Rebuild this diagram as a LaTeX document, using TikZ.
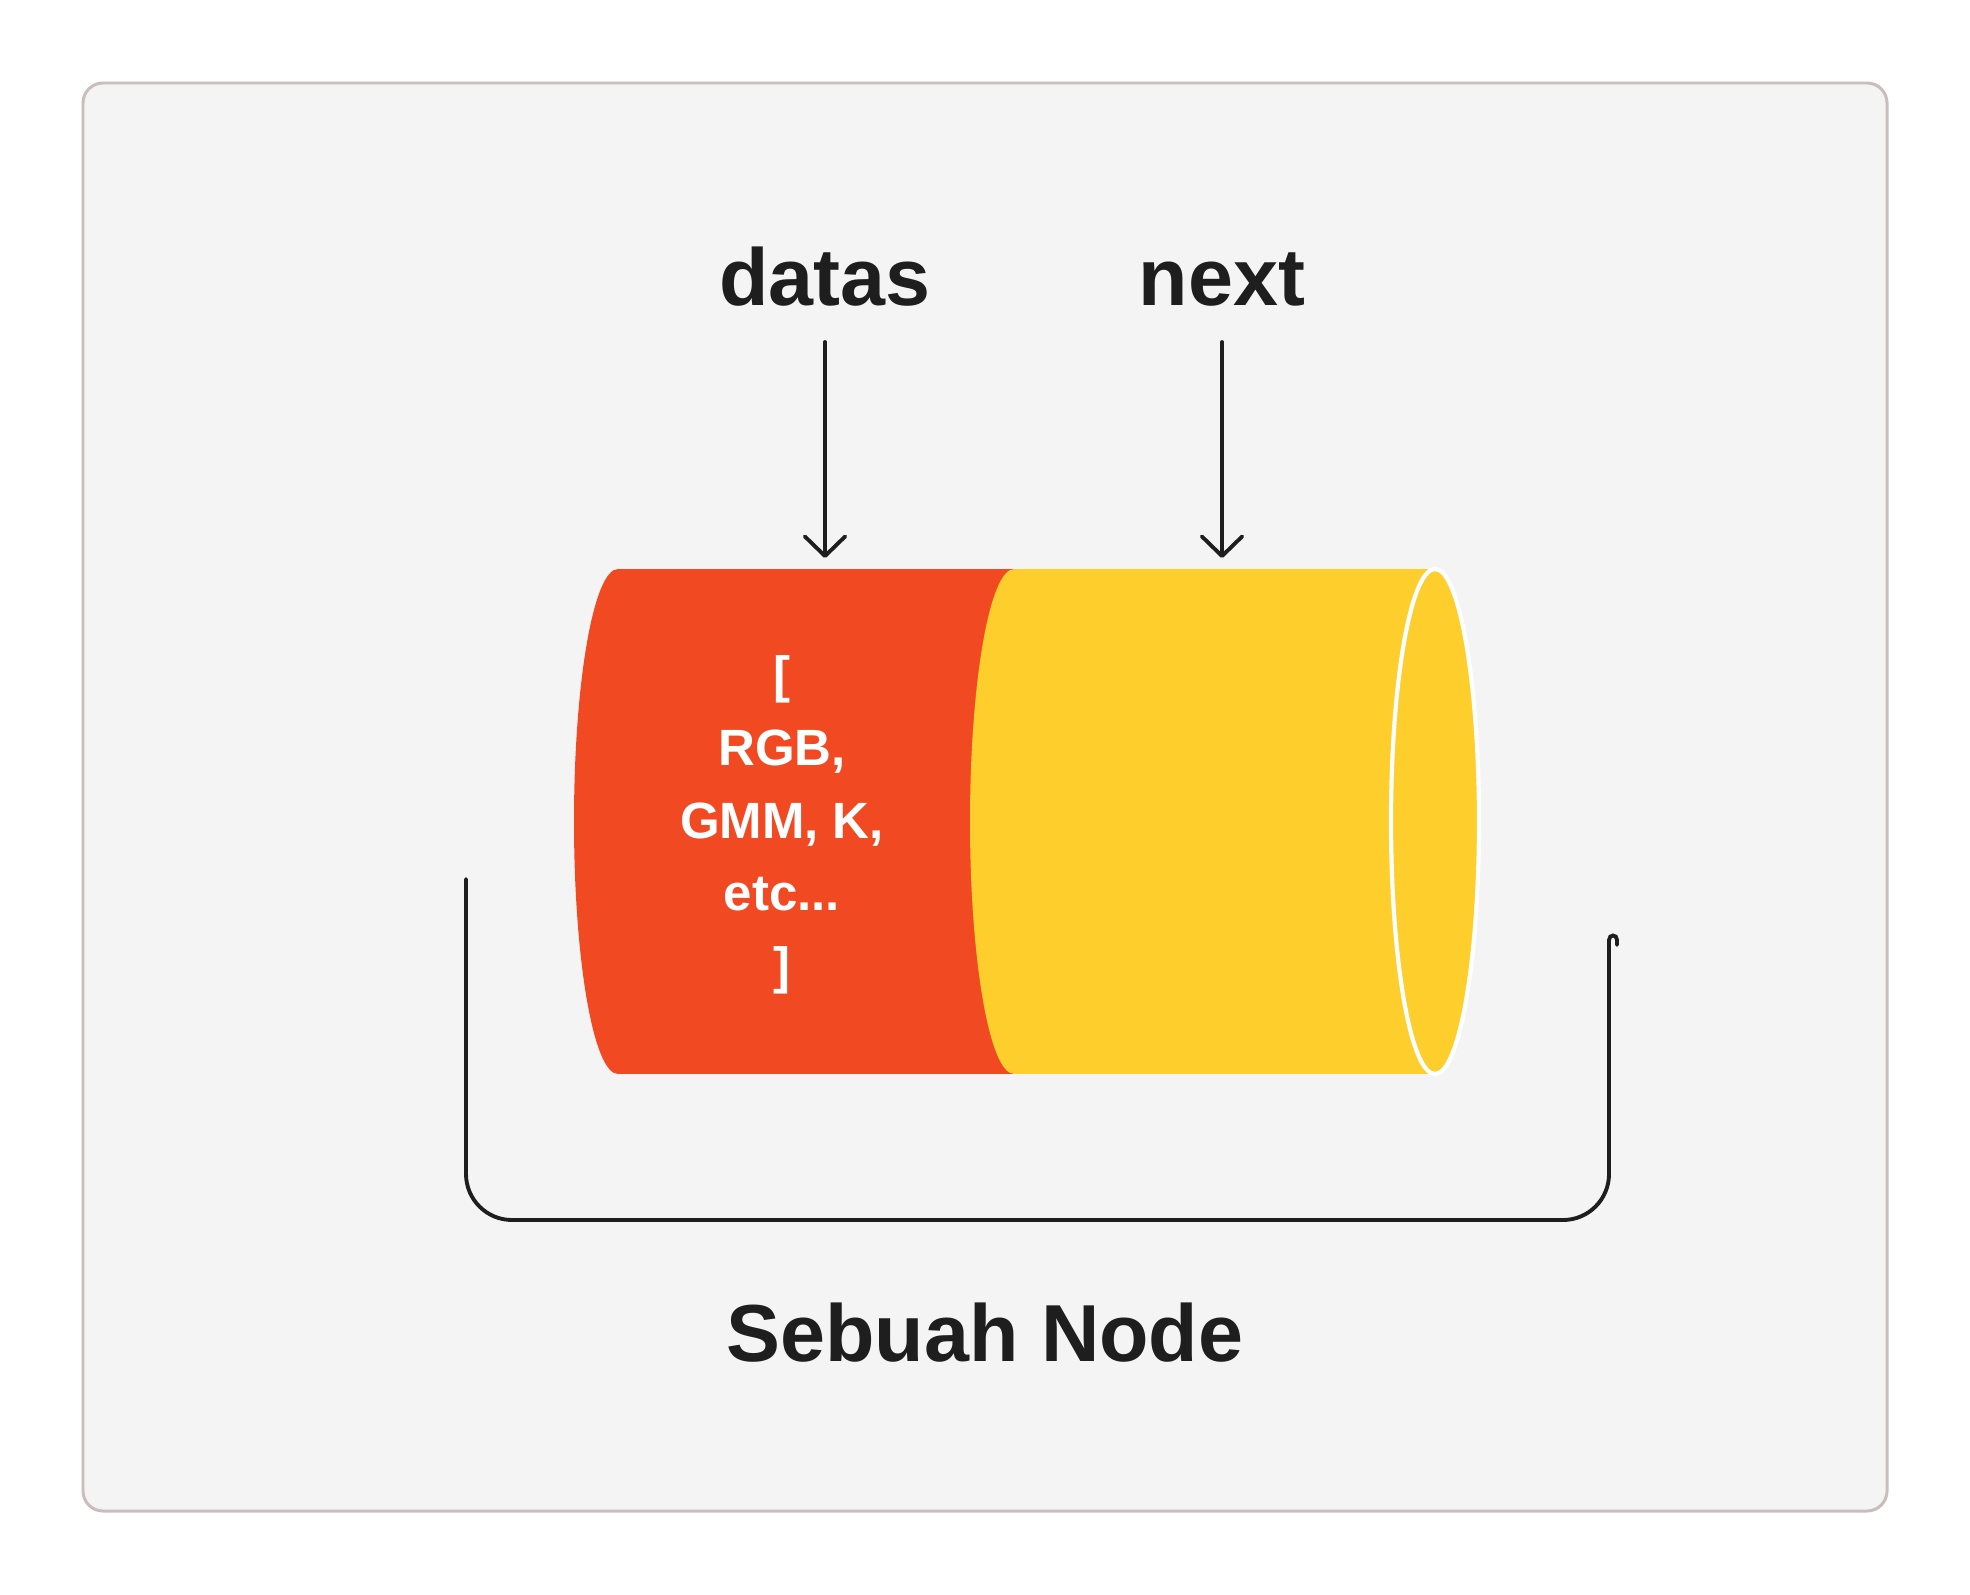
\documentclass[tikz,border=0pt]{standalone}
\usepackage{fontspec}
\setmainfont{Liberation Sans}
\usetikzlibrary{arrows.meta}
\definecolor{bg}{HTML}{F4F4F4}
\definecolor{rim}{HTML}{C9BDBD}
\definecolor{ink}{HTML}{1E1E1E}
\definecolor{redc}{HTML}{F14A23}
\definecolor{yelc}{HTML}{FECE2C}
\begin{document}
\begin{tikzpicture}[x=.01cm, y=-.01cm, >={Straight Barb[length=5.6pt,width=11.5pt,round]},
  lbl/.style={font=\bfseries\fontsize{23}{28}\selectfont, text=ink, inner sep=0pt},
  ptr/.style={->, draw=ink, line width=1.1pt, line cap=round},
  brk/.style={draw=ink, line width=1.1pt, line cap=round}]
\useasboundingbox[fill=white] (0,0) rectangle (1970,1594);
\draw[fill=bg, draw=rim, line width=.85pt, rounded corners=.2cm] (83,83) rectangle (1887,1511);
\fill[redc] (618,821.5) ellipse [x radius=44, y radius=252.5];
\fill[redc] (618,569) rectangle (1014,1074);
\fill[yelc] (1014,821.5) ellipse [x radius=44, y radius=252.5];
\fill[yelc] (1014,569) rectangle (1435,1074);
\filldraw[fill=yelc, draw=white, line width=1.2pt] (1435,821.5) ellipse [x radius=44, y radius=252.5];
\node[text=white, font=\bfseries\fontsize{14.5}{20.7}\selectfont, align=center] (vals) at (782,825) {[\\RGB,\\GMM, K,\\etc...\\]};
\node[lbl, anchor=base] (datas) at (825,305) {datas};
\node[lbl, anchor=base] (next) at (1222,305) {next};
\coordinate (datasA) at (825,342);
\coordinate (datasB) at (825,558);
\coordinate (nextA) at (1222,342);
\coordinate (nextB) at (1222,558);
\draw[ptr] (datasA) -- (datasB);
\draw[ptr] (nextA) -- (nextB);
\coordinate (brkL) at (466,879);
\coordinate (brkR) at (1609,940);
\draw[brk] (brkL) [rounded corners=.46cm] -- (466,1220) -- (1609,1220) -- (1609,1000) [sharp corners] -- (brkR)
  .. controls (1609,934) and (1617,934) .. (1617,940) -- (1617,945);
\node[lbl, anchor=base] (title) at (985,1361) {Sebuah Node};
\end{tikzpicture}
\end{document}
